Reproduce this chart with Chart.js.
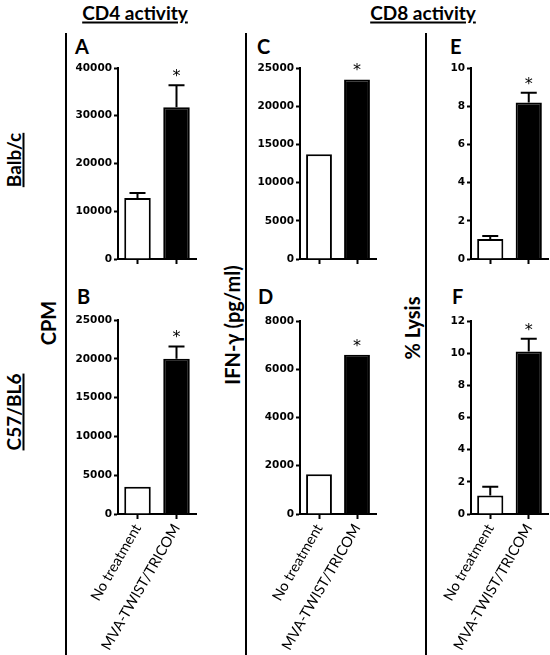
<!DOCTYPE html>
<html><head><meta charset="utf-8">
<script src="https://cdn.jsdelivr.net/npm/chart.js@4.4.0/dist/chart.umd.min.js"></script>
<style>
html,body{margin:0;padding:0;background:#fff;}
body{width:550px;height:655px;position:relative;overflow:hidden;font-family:Lato,"Open Sans",sans-serif;}
.vl{position:absolute;width:2px;background:#000;top:33px;height:622px;}
.t{position:absolute;white-space:nowrap;font-weight:bold;color:#000;line-height:1;}
.rot{transform:translate(-50%,-50%) rotate(-90deg);}
.ctr{transform:translate(-50%,-50%);}
.u{text-decoration:underline;text-decoration-thickness:1.5px;text-underline-offset:2px;}
canvas{position:absolute;}
</style></head>
<body>
<div class="vl" style="left:65px"></div>
<div class="vl" style="left:245px"></div>
<div class="vl" style="left:425px"></div>

<div class="t u ctr" style="left:135px;top:12px;font-size:19px">CD4 activity</div>
<div class="t u ctr" style="left:423px;top:12px;font-size:19px">CD8 activity</div>

<div class="t u rot" style="left:13px;top:160px;font-size:19px">Balb/c</div>
<div class="t u rot" style="left:13px;top:412px;font-size:19px">C57/BL6</div>

<div class="t rot" style="left:48px;top:323px;font-size:20px">CPM</div>
<div class="t rot" style="left:232px;top:325px;font-size:20px">IFN-γ (pg/ml)</div>
<div class="t rot" style="left:412px;top:328px;font-size:20px">% Lysis</div>

<div class="t" style="left:75px;top:36px;font-size:20px">A</div>
<div class="t" style="left:257px;top:36px;font-size:20px">C</div>
<div class="t" style="left:450px;top:36px;font-size:20px">E</div>
<div class="t" style="left:77px;top:286px;font-size:20px">B</div>
<div class="t" style="left:258px;top:286px;font-size:20px">D</div>
<div class="t" style="left:452px;top:286px;font-size:20px">F</div>

<canvas id="cA" style="left:66px;top:58px" width="142" height="211"></canvas>
<canvas id="cC" style="left:248px;top:58px" width="140" height="211"></canvas>
<canvas id="cE" style="left:419px;top:58px" width="141" height="211"></canvas>
<canvas id="cB" style="left:66px;top:310px" width="142" height="345"></canvas>
<canvas id="cD" style="left:248px;top:311px" width="140" height="344"></canvas>
<canvas id="cF" style="left:419px;top:311px" width="141" height="344"></canvas>

<script>
// ---- data ----
const categories = ['No treatment', 'MVA-TWIST/TRICOM'];

const cpmBalb      = [12800, 31800];
const cpmBalbErr   = [1000, 4600];
const ifnBalb      = [13700, 23500];
const ifnBalbErr   = [0, 0];
const lysisBalb    = [1.05, 8.2];
const lysisBalbErr = [0.15, 0.5];

const cpmC57       = [3500, 20000];
const cpmC57Err    = [0, 1600];
const ifnC57       = [1650, 6600];
const ifnC57Err    = [0, 0];
const lysisC57     = [1.15, 10.1];
const lysisC57Err  = [0.55, 0.8];

const significant  = [false, true];

const axisMax  = {cpmBalb: 40000, ifnBalb: 25000, lysisBalb: 10, cpmC57: 25000, ifnC57: 8000, lysisC57: 12};
const axisStep = {cpmBalb: 10000, ifnBalb: 5000, lysisBalb: 2, cpmC57: 5000, ifnC57: 2000, lysisC57: 2};

// ---- error bars + significance star ----
const errPlugin = {
  id: 'errs',
  afterDatasetsDraw(chart, args, opts) {
    const ctx = chart.ctx, ys = chart.scales.y, meta = chart.getDatasetMeta(0);
    const vals = opts.values, errs = opts.errors;
    ctx.save();
    ctx.strokeStyle = '#000'; ctx.lineWidth = 2; ctx.lineCap = 'butt';
    vals.forEach((v, i) => {
      const e = errs[i];
      const x = meta.data[i].x;
      const yTop = ys.getPixelForValue(v + e);
      if (e > 0) {
        const yb = ys.getPixelForValue(v);
        ctx.beginPath();
        ctx.moveTo(x, yb); ctx.lineTo(x, yTop);
        ctx.moveTo(x - 8, yTop); ctx.lineTo(x + 8, yTop);
        ctx.stroke();
      }
      if (opts.sig[i]) {
        ctx.fillStyle = '#000';
        ctx.font = '16px "DejaVu Sans"';
        ctx.textAlign = 'center';
        ctx.textBaseline = 'alphabetic';
        ctx.fillText('*', x, yTop - 13 + 9);
      }
    });
    ctx.restore();
  }
};

function makeChart(id, values, errors, max, step, showLabels, xH) {
  new Chart(document.getElementById(id), {
    type: 'bar',
    data: {
      labels: categories,
      datasets: [{
        data: values,
        backgroundColor: ['#ffffff', '#000000'],
        borderColor: '#000',
        borderWidth: 2,
        borderSkipped: 'bottom',
        barPercentage: 0.68,
        categoryPercentage: 1
      }]
    },
    options: {
      responsive: false,
      animation: false,
      events: [],
      layout: {padding: {top: 10, right: 12, left: 0, bottom: 0}},
      plugins: {
        legend: {display: false},
        tooltip: {enabled: false},
        errs: {values: values, errors: errors, sig: significant}
      },
      scales: {
        x: {
          grid: {display: true, drawOnChartArea: false, offset: false, tickLength: 5, color: '#000', tickColor: '#000', tickWidth: 2},
          border: {display: true, color: '#000', width: 2},
          ticks: {display: showLabels, minRotation: 60, maxRotation: 60, autoSkip: false, color: '#000',
                  font: {family: 'Lato', size: 14.5}, padding: 2},
          afterFit(s) { s.height = xH; }
        },
        y: {
          min: 0, max: max,
          ticks: {stepSize: step, color: '#000', font: {family: 'DejaVu Sans', size: 10.5, weight: 'bold'}, padding: 2,
                  callback: (v) => String(v)},
          grid: {drawOnChartArea: false, tickLength: 4, color: '#000', tickColor: '#000', tickWidth: 2},
          border: {color: '#000', width: 2},
          afterFit(s) { s.width = 52; }
        }
      }
    },
    plugins: [errPlugin]
  });
}

makeChart('cA', cpmBalb,   cpmBalbErr,   axisMax.cpmBalb,   axisStep.cpmBalb,   false, 10);
makeChart('cC', ifnBalb,   ifnBalbErr,   axisMax.ifnBalb,   axisStep.ifnBalb,   false, 10);
makeChart('cE', lysisBalb, lysisBalbErr, axisMax.lysisBalb, axisStep.lysisBalb, false, 10);
makeChart('cB', cpmC57,    cpmC57Err,    axisMax.cpmC57,    axisStep.cpmC57,    true, 141);
makeChart('cD', ifnC57,    ifnC57Err,    axisMax.ifnC57,    axisStep.ifnC57,    true, 141);
makeChart('cF', lysisC57,  lysisC57Err,  axisMax.lysisC57,  axisStep.lysisC57,  true, 141);
</script>
</body></html>
